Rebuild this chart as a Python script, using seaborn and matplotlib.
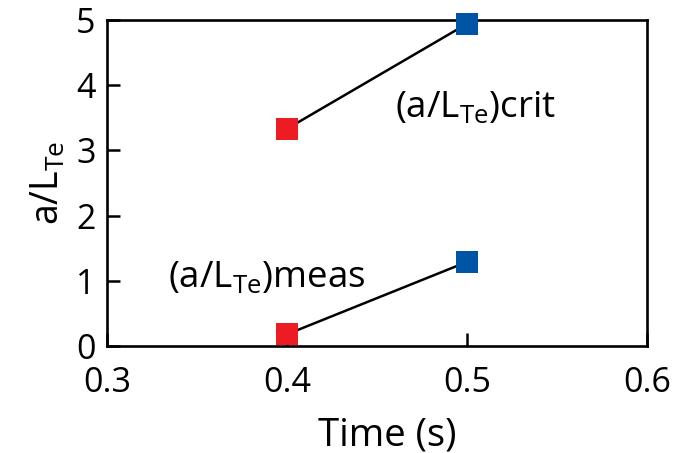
import matplotlib
matplotlib.use("Agg")
import matplotlib.pyplot as plt
import seaborn as sns
import pandas as pd

# Data
times = [0.4, 0.5]
crit_values = [3.33, 4.94]
meas_values = [0.18, 1.29]
point_colors = ["#ED1C24", "#0054A6"]
x_ticks = [0.3, 0.4, 0.5, 0.6]
y_ticks = [0, 1, 2, 3, 4, 5]

sns.set_theme(style="white")
plt.rcParams['font.family'] = ['Open Sans', 'DejaVu Sans']
plt.rcParams['mathtext.default'] = 'regular'

df = pd.DataFrame({
    "time": times * 2,
    "value": crit_values + meas_values,
    "series": ["crit"] * 2 + ["meas"] * 2,
    "tcat": [str(t) for t in times] * 2,
})

fig = plt.figure(figsize=(6.89, 4.53), dpi=100)
ax = fig.add_axes([0.155, 0.236, 0.784, 0.720])

sns.lineplot(data=df, x="time", y="value", units="series", estimator=None,
             color="black", linewidth=1.8, ax=ax, legend=False)
sns.scatterplot(data=df, x="time", y="value", hue="tcat",
                palette=dict(zip([str(t) for t in times], point_colors)),
                marker="s", s=250, linewidth=0, ax=ax, legend=False,
                zorder=3, clip_on=False)

ax.set_xlim(0.3, 0.6)
ax.set_ylim(0, 5)
ax.set_xticks(x_ticks)
ax.set_xticklabels([f"{t:.1f}" for t in x_ticks])
ax.set_yticks(y_ticks)
ax.set_yticklabels([str(t) for t in y_ticks])
ax.tick_params(axis="both", direction="in", length=9.5, width=1.8,
               labelsize=24.5, colors="black", bottom=True, left=True,
               top=False, right=False)
ax.tick_params(axis="x", pad=14)
ax.tick_params(axis="y", pad=8)
for sp in ax.spines.values():
    sp.set_visible(True)
    sp.set_color("black")
    sp.set_linewidth(1.9)

ax.set_xlabel("Time (s)", fontsize=27.5, color="black", labelpad=4)
ax.xaxis.set_label_coords(0.52, -0.215)
ax.set_ylabel(r"a/L$_{Te}$", fontsize=27, color="black", labelpad=6)

ax.text(0.505, 3.51, r"(a/L$_{Te}$)crit", fontsize=26.5, color="black",
        ha="center", va="baseline")
ax.text(0.389, 0.90, r"(a/L$_{Te}$)meas", fontsize=26.5, color="black",
        ha="center", va="baseline")

fig.savefig("out.png", dpi=100, facecolor="white")
